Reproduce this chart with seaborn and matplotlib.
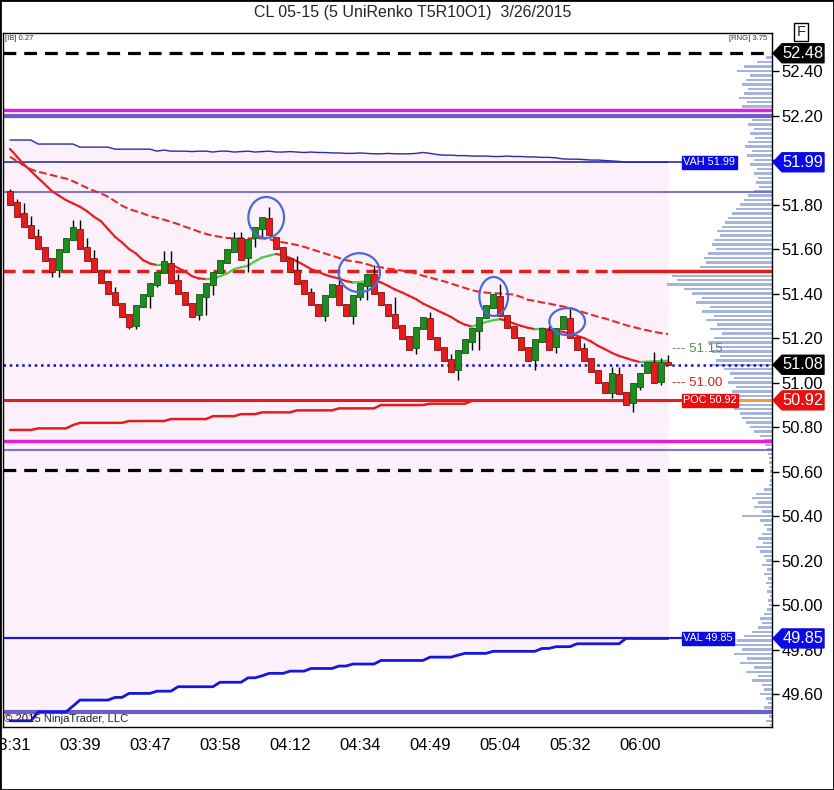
import numpy as np
import matplotlib
matplotlib.use("Agg")
import matplotlib.pyplot as plt
import matplotlib.transforms as mtransforms
from matplotlib.patches import Ellipse, Polygon, Rectangle
import seaborn as sns

title = "CL 05-15 (5 UniRenko T5R10O1)  3/26/2015"
time_labels = ["03:31", "03:39", "03:47", "03:58", "04:12",
               "04:34", "04:49", "05:04", "05:32", "06:00"]
price_ticks = [49.60, 49.80, 50.00, 50.20, 50.40, 50.60, 50.80,
               51.00, 51.20, 51.40, 51.60, 51.80, 52.00, 52.20, 52.40]
# 52.00 sits under the VAH tag on the axis, so its label is left blank
price_labels = ["49.60", "49.80", "50.00", "50.20", "50.40", "50.60", "50.80",
                "51.00", "51.20", "51.40", "51.60", "51.80", "", "52.20", "52.40"]

opens = [51.86, 51.81, 51.76, 51.708, 51.658, 51.607, 51.558, 51.506, 51.588, 51.64,
         51.69, 51.607, 51.558, 51.506, 51.458, 51.408, 51.356, 51.308, 51.254, 51.338,
         51.388, 51.438, 51.491, 51.536, 51.461, 51.408, 51.356, 51.303, 51.386, 51.438,
         51.491, 51.536, 51.588, 51.648, 51.558, 51.648, 51.69, 51.738, 51.655, 51.607,
         51.558, 51.508, 51.46, 51.408, 51.355, 51.298, 51.385, 51.438, 51.355, 51.298,
         51.385, 51.435, 51.49, 51.408, 51.355, 51.307, 51.258, 51.209, 51.157, 51.24,
         51.29, 51.205, 51.158, 51.108, 51.056, 51.135, 51.183, 51.232, 51.29, 51.333,
         51.388, 51.303, 51.254, 51.206, 51.158, 51.101, 51.184, 51.236, 51.161, 51.239,
         51.289, 51.206, 51.154, 51.109, 51.056, 51.004, 50.952, 51.04, 50.959, 50.907,
         50.982, 51.041, 51.094, 51.004, 51.094]
highs = [51.87, 51.825, 51.805, 51.748, 51.688, 51.607, 51.558, 51.598, 51.648, 51.73,
         51.73, 51.648, 51.595, 51.506, 51.458, 51.428, 51.356, 51.308, 51.348, 51.398,
         51.446, 51.498, 51.592, 51.592, 51.49, 51.408, 51.356, 51.398, 51.446, 51.498,
         51.55, 51.598, 51.678, 51.678, 51.643, 51.697, 51.745, 51.79, 51.655, 51.607,
         51.558, 51.568, 51.46, 51.427, 51.355, 51.393, 51.445, 51.478, 51.355, 51.393,
         51.448, 51.49, 51.528, 51.408, 51.355, 51.385, 51.258, 51.209, 51.248, 51.295,
         51.315, 51.205, 51.158, 51.128, 51.145, 51.195, 51.247, 51.295, 51.348, 51.397,
         51.445, 51.303, 51.254, 51.206, 51.158, 51.194, 51.244, 51.254, 51.244, 51.299,
         51.329, 51.206, 51.176, 51.109, 51.056, 51.004, 51.07, 51.07, 50.959, 50.996,
         51.044, 51.094, 51.139, 51.109, 51.124]
lows = [51.80, 51.745, 51.697, 51.648, 51.598, 51.547, 51.475, 51.473, 51.588, 51.64,
        51.598, 51.547, 51.498, 51.446, 51.398, 51.348, 51.296, 51.24, 51.239, 51.338,
        51.333, 51.43, 51.491, 51.446, 51.398, 51.348, 51.296, 51.281, 51.303, 51.393,
        51.491, 51.536, 51.588, 51.55, 51.498, 51.61, 51.655, 51.663, 51.598, 51.547,
        51.498, 51.445, 51.397, 51.348, 51.298, 51.277, 51.385, 51.348, 51.298, 51.262,
        51.37, 51.37, 51.397, 51.348, 51.298, 51.247, 51.198, 51.146, 51.13, 51.24,
        51.198, 51.146, 51.098, 51.048, 51.01, 51.135, 51.145, 51.148, 51.29, 51.333,
        51.298, 51.244, 51.199, 51.146, 51.098, 51.056, 51.184, 51.146, 51.131, 51.239,
        51.199, 51.146, 51.098, 51.049, 50.997, 50.952, 50.93, 50.95, 50.899, 50.869,
        50.966, 51.041, 51.0, 50.99, 51.079]
closes = [51.80, 51.745, 51.697, 51.648, 51.598, 51.547, 51.498, 51.598, 51.648, 51.697,
          51.598, 51.547, 51.498, 51.446, 51.398, 51.348, 51.296, 51.248, 51.348, 51.398,
          51.446, 51.498, 51.548, 51.446, 51.398, 51.348, 51.296, 51.398, 51.446, 51.498,
          51.55, 51.598, 51.648, 51.55, 51.643, 51.697, 51.745, 51.663, 51.598, 51.547,
          51.498, 51.445, 51.397, 51.348, 51.298, 51.393, 51.445, 51.348, 51.298, 51.393,
          51.448, 51.49, 51.397, 51.348, 51.298, 51.247, 51.198, 51.146, 51.248, 51.295,
          51.198, 51.146, 51.098, 51.048, 51.145, 51.195, 51.247, 51.295, 51.348, 51.397,
          51.298, 51.244, 51.199, 51.146, 51.098, 51.194, 51.244, 51.146, 51.244, 51.299,
          51.199, 51.146, 51.098, 51.049, 50.997, 50.952, 51.041, 50.95, 50.899, 50.996,
          51.044, 51.094, 51.0, 51.094, 51.08]

fast_ma = [52.05, 52.015, 51.98, 51.95, 51.92, 51.89, 51.86, 51.84, 51.82, 51.805,
           51.79, 51.77, 51.745, 51.725, 51.69, 51.655, 51.63, 51.60, 51.58, 51.55,
           51.535, 51.528, 51.53, 51.532, 51.515, 51.50, 51.478, 51.468, 51.465, 51.466,
           51.478, 51.49, 51.51, 51.518, 51.525, 51.545, 51.562, 51.57, 51.578, 51.572,
           51.56, 51.545, 51.528, 51.51, 51.498, 51.485, 51.475, 51.468, 51.456, 51.45,
           51.452, 51.456, 51.458, 51.45, 51.435, 51.418, 51.405, 51.39, 51.375, 51.355,
           51.34, 51.325, 51.31, 51.295, 51.275, 51.26, 51.252, 51.262, 51.272, 51.28,
           51.285, 51.278, 51.265, 51.255, 51.246, 51.24, 51.242, 51.238, 51.232, 51.228,
           51.22, 51.21, 51.20, 51.185, 51.165, 51.15, 51.133, 51.12, 51.11, 51.10,
           51.092, 51.094, 51.096, 51.097, 51.098]
slow_ma = [52.015, 51.995, 51.975, 51.958, 51.948, 51.94, 51.932, 51.924, 51.917, 51.905,
           51.89, 51.875, 51.862, 51.85, 51.835, 51.815, 51.795, 51.78, 51.77, 51.76,
           51.748, 51.74, 51.732, 51.722, 51.712, 51.70, 51.69, 51.678, 51.668, 51.66,
           51.655, 51.65, 51.648, 51.648, 51.648, 51.648, 51.648, 51.645, 51.635, 51.63,
           51.625, 51.618, 51.61, 51.60, 51.59, 51.58, 51.57, 51.56, 51.55, 51.545,
           51.54, 51.532, 51.522, 51.518, 51.512, 51.508, 51.503, 51.498, 51.49, 51.48,
           51.472, 51.463, 51.455, 51.445, 51.435, 51.425, 51.415, 51.408, 51.404, 51.402,
           51.40, 51.398, 51.395, 51.385, 51.372, 51.367, 51.36, 51.355, 51.348, 51.342,
           51.335, 51.325, 51.315, 51.305, 51.296, 51.288, 51.278, 51.268, 51.258, 51.25,
           51.242, 51.235, 51.228, 51.222, 51.218]

dev_vah = [52.09, 52.09, 52.09, 52.09, 52.072, 52.072, 52.072, 52.072, 52.072, 52.072,
           52.058, 52.058, 52.058, 52.058, 52.058, 52.049, 52.049, 52.049, 52.049, 52.049,
           52.049, 52.04, 52.045, 52.04, 52.04, 52.04, 52.038, 52.04, 52.04, 52.036,
           52.04, 52.04, 52.036, 52.038, 52.04, 52.036, 52.038, 52.04, 52.036, 52.036,
           52.038, 52.036, 52.034, 52.036, 52.034, 52.034, 52.032, 52.032, 52.03, 52.03,
           52.032, 52.03, 52.028, 52.028, 52.03, 52.028, 52.028, 52.028, 52.03, 52.034,
           52.03, 52.025, 52.022, 52.022, 52.02, 52.02, 52.018, 52.018, 52.018, 52.016,
           52.016, 52.018, 52.016, 52.016, 52.014, 52.014, 52.012, 52.012, 52.01, 52.005,
           52.004, 52.004, 52.002, 52.0, 52.0, 51.998, 51.996, 51.994, 51.99, 51.99,
           51.99, 51.99, 51.99, 51.99, 51.99]
dev_val = [49.48, 49.48, 49.48, 49.48, 49.52, 49.52, 49.52, 49.52, 49.52, 49.546,
           49.573, 49.573, 49.573, 49.573, 49.573, 49.585, 49.585, 49.603, 49.603, 49.603,
           49.603, 49.613, 49.613, 49.613, 49.633, 49.633, 49.633, 49.633, 49.633, 49.633,
           49.653, 49.653, 49.653, 49.653, 49.673, 49.673, 49.682, 49.693, 49.693, 49.693,
           49.703, 49.703, 49.703, 49.715, 49.715, 49.715, 49.715, 49.726, 49.726, 49.735,
           49.735, 49.735, 49.735, 49.751, 49.751, 49.751, 49.751, 49.751, 49.751, 49.751,
           49.766, 49.766, 49.766, 49.766, 49.775, 49.783, 49.783, 49.783, 49.783, 49.792,
           49.792, 49.792, 49.792, 49.792, 49.792, 49.792, 49.805, 49.805, 49.813, 49.813,
           49.813, 49.826, 49.826, 49.826, 49.826, 49.826, 49.826, 49.826, 49.85, 49.85,
           49.85, 49.85, 49.85, 49.85, 49.85]
dev_poc = [50.787, 50.787, 50.787, 50.787, 50.794, 50.794, 50.794, 50.794, 50.794, 50.809,
           50.819, 50.819, 50.819, 50.819, 50.819, 50.819, 50.819, 50.827, 50.827, 50.827,
           50.827, 50.827, 50.827, 50.836, 50.836, 50.836, 50.836, 50.836, 50.836, 50.849,
           50.849, 50.849, 50.849, 50.858, 50.858, 50.858, 50.866, 50.866, 50.866, 50.866,
           50.866, 50.875, 50.875, 50.875, 50.875, 50.875, 50.875, 50.884, 50.884, 50.884,
           50.884, 50.884, 50.884, 50.899, 50.899, 50.899, 50.899, 50.899, 50.899, 50.899,
           50.905, 50.905, 50.905, 50.905, 50.905, 50.905, 50.918, 50.918, 50.918, 50.918,
           50.918, 50.918, 50.918, 50.918, 50.918, 50.918, 50.918, 50.918, 50.918, 50.918,
           50.918, 50.918, 50.918, 50.918, 50.918, 50.918, 50.918, 50.918, 50.918, 50.918,
           50.918, 50.918, 50.918, 50.918, 50.918]

# volume profile, from 52.46 downwards in 0.02 steps
profile_top = 52.46
profile_step = 0.02
profile_vol = [6, 15, 28, 35, 22, 26, 30, 24, 28, 33, 25, 30, 27, 22, 20, 24, 18, 22, 17, 24,
               27, 20, 25, 18, 22, 15, 18, 14, 16, 13, 18, 24, 28, 32, 36, 40, 44, 47, 50, 55,
               52, 58, 60, 56, 64, 68, 66, 72, 90, 100, 95, 105, 88, 80, 70, 76, 62, 70, 58, 66,
               55, 62, 50, 58, 64, 55, 60, 52, 56, 62, 48, 42, 38, 44, 36, 40, 34, 42, 36, 38,
               32, 30, 26, 22, 18, 12, 8, 7, 5, 4, 3, 3, 2, 2, 2, 2, 3, 8, 16, 20,
               14, 18, 10, 30, 12, 8, 5, 10, 14, 9, 16, 12, 8, 6, 10, 5, 8, 4, 6, 3,
               5, 2, 4, 3, 5, 8, 12, 10, 14, 20, 28, 35, 45, 30, 38, 25, 32, 18, 26, 14,
               20, 10, 8, 12, 6, 4, 8, 5, 3, 6, 2]

vah, val, poc, last_price = 51.99, 49.85, 50.92, 51.08
hi_dash, lo_dash = 52.48, 50.605
magenta_levels = [52.225, 50.738]
slate_thick = [52.20, 49.518]
slate_thin = [51.858, 50.695]
red_level = 51.50
target_hi, target_lo = 51.15, 51.00

# circled bars: (bar, price, width in bars, height in price)
circles = [(36.6, 51.742, 5.1, 0.184), (49.9, 51.494, 5.9, 0.175),
           (69.1, 51.387, 4.1, 0.175), (79.6, 51.274, 5.1, 0.121)]

# ---------------------------------------------------------------
sns.set_style("white")
plt.rcParams["font.family"] = ["Liberation Sans", "DejaVu Sans"]

W, H = 834, 790
fig = plt.figure(figsize=(W / 100, H / 100), dpi=100)
ax = fig.add_axes([3 / W, 1 - 727 / H, 769 / W, 694 / H])

n = len(closes)
idx = np.arange(n)
xmin, xmax = -1, (772 - 10) / 7
ax.set_xlim(xmin, xmax)
ax.set_ylim(49.452, 52.571)

RED, GREEN = "#e51c1c", "#1e8c1e"
SLATE = "#6a5fc8"
PINK = "#fcf0fa"
PROF = "#a4b4de"

# developing value area shading
ax.fill_between(np.r_[xmin, idx], np.r_[dev_val[0], dev_val], np.r_[dev_vah[0], dev_vah],
                color=PINK, lw=0, zorder=0)

# volume profile hanging from the price axis
prof_prices = profile_top - profile_step * np.arange(len(profile_vol))
ax.barh(prof_prices, -np.array(profile_vol) / 7, left=xmax, height=0.011,
        color=PROF, lw=0, zorder=1)

# horizontal levels
ax.axhline(hi_dash, color="black", lw=2.3, ls=(0, (4, 2.5)), zorder=2)
ax.axhline(lo_dash, color="black", lw=2.3, ls=(0, (4, 2.5)), zorder=2)
for lv in magenta_levels:
    ax.axhline(lv, color="#e01ee0", lw=2.5, zorder=2)
for lv in slate_thick:
    ax.axhline(lv, color=SLATE, lw=3, zorder=2)
for lv in slate_thin:
    ax.axhline(lv, color=SLATE, lw=1.5, alpha=0.85, zorder=2)
ax.plot([xmin, 86.1], [red_level] * 2, color=RED, lw=2.5, ls=(0, (3.5, 2)), zorder=2)
ax.plot([86.1, xmax], [red_level] * 2, color=RED, lw=2.5, zorder=2)
ax.axhline(last_price, color="#1010d0", lw=1.8, ls=(0, (1, 1.5)), zorder=2)

ax.plot([xmin, 96.0], [vah, vah], color="#1a1aa0", lw=1.1, zorder=2)
ax.plot([xmin, 96.0], [val, val], color="#1a1ad8", lw=1.6, zorder=2)
ax.plot([xmin, 96.1], [poc, poc], color=RED, lw=2.2, zorder=2)
ax.plot([104.1, xmax], [poc, poc], color="#f0a030", lw=2.2, zorder=2)

# developing VAH / VAL / POC
sns.lineplot(x=idx, y=dev_vah, ax=ax, color="#2a2aa8", lw=1.0, zorder=3)
sns.lineplot(x=idx, y=dev_val, ax=ax, color="#1616e0", lw=2.0, zorder=3)
sns.lineplot(x=idx, y=dev_poc, ax=ax, color=RED, lw=1.8, zorder=3)

# moving averages
sns.lineplot(x=idx, y=slow_ma, ax=ax, color="#e42a2a", lw=1.5, linestyle="--", zorder=4)
fast = np.array(fast_ma)
rising = np.diff(fast) > 0
for k in range(n - 1):
    ax.plot(idx[k:k + 2], fast[k:k + 2], color="#4ccc4c" if rising[k] else "#e52020",
            lw=1.6, solid_capstyle="round", zorder=4)

# candles
o, h, l, c = map(np.array, (opens, highs, lows, closes))
up = c >= o
ax.vlines(idx, l, h, color="black", lw=1, zorder=5)
body_col = np.where(up, GREEN, RED)
edge_col = np.where(up, "#105a10", "#8a1010")
ax.bar(idx, np.where(np.abs(c - o) < 0.004, 0.004, c - o), bottom=o, width=0.72,
       color=body_col, edgecolor=edge_col, lw=0.6, zorder=6)

# annotation circles
for cx, cy, cw, ch in circles:
    ax.add_patch(Ellipse((cx, cy), cw, ch, fill=False, ec="#4a6ad8", lw=1.6, zorder=7))

# level tags inside the chart
tag = dict(color="white", fontsize=7.8, va="center", ha="left", zorder=8)
ax.text(96.2, vah, f"VAH {vah:.2f}", bbox=dict(boxstyle="square,pad=0.12", fc="#0a0ae6", ec="#0a0ae6"), **tag)
ax.text(96.2, poc, f"POC {poc:.2f}", bbox=dict(boxstyle="square,pad=0.12", fc="#e61010", ec="#e61010"), **tag)
ax.text(96.2, val, f"VAL {val:.2f}", bbox=dict(boxstyle="square,pad=0.12", fc="#0a0ae6", ec="#0a0ae6"), **tag)
ax.text(94.6, target_hi, f"--- {target_hi:.2f}", color="#5a8a5a", fontsize=9.5, va="center", zorder=8)
ax.text(94.6, target_lo, f"--- {target_lo:.2f}", color="#d02020", fontsize=9.5, va="center", zorder=8)

# price tags on the axis
blend = mtransforms.blended_transform_factory(ax.transAxes, ax.transData)
px = 1 / 769
half = 9.5 / 222.5
for price, col in [(hi_dash, "black"), (vah, "#0a0ae6"), (last_price, "black"),
                   (poc, "#e61010"), (val, "#0a0ae6")]:
    pts = [(1 + 1 * px, price), (1 + 10 * px, price + half), (1 + 52 * px, price + half),
           (1 + 52 * px, price - half), (1 + 10 * px, price - half)]
    ax.add_patch(Polygon(pts, closed=True, fc=col, ec=col, transform=blend,
                         clip_on=False, zorder=9))
    ax.text(1 + 31 * px, price, f"{price:.2f}", transform=blend, color="white",
            fontsize=11.8, ha="center", va="center", clip_on=False, zorder=10)

# axes
ax.yaxis.tick_right()
ax.set_yticks(price_ticks)
ax.set_yticklabels(price_labels)
ax.set_xticks(idx[::10])
ax.set_xticklabels(time_labels)
ax.tick_params(axis="both", direction="out", length=5, width=1, labelsize=12,
               colors="black", pad=2)
ax.tick_params(axis="x", pad=3)
for s in ax.spines.values():
    s.set_color("black")
    s.set_linewidth(1)
ax.set_xlabel("")
ax.set_ylabel("")
ax.grid(False)

# texts around
fig.text(413 / W, 1 - 13 / H, title, ha="center", va="center", fontsize=11.5)
fig.text(5 / W, 1 - 38 / H, "[IB] 0.27", fontsize=5.5, va="center", color="#333333")
fig.text(767 / W, 1 - 38 / H, "[RNG] 3.75", fontsize=5.5, va="center", ha="right", color="#333333")
fig.text(4 / W, 1 - 719 / H, "\u00a9 2015 NinjaTrader, LLC", fontsize=8.1, va="center", color="#222222")
fig.text(801 / W, 1 - 32 / H, "F", fontsize=10.5, ha="center", va="center",
         bbox=dict(boxstyle="square,pad=0.15", fc="white", ec="black", lw=1))
fig.patches.append(Rectangle((0, 0), 1, 1, transform=fig.transFigure, fill=False,
                             ec="black", lw=2, zorder=20))

fig.savefig("out.png", dpi=100)
